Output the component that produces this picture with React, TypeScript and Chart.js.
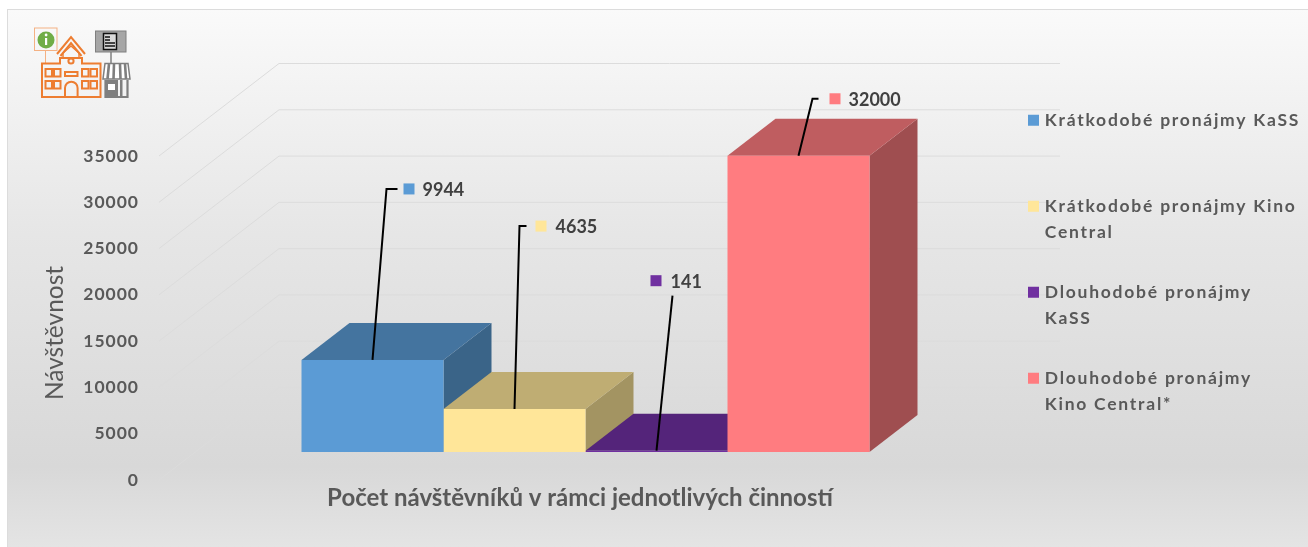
import React, { useEffect, useRef } from "react";
import { Chart, registerables } from "chart.js";

Chart.register(...registerables);

const categories = ["Počet návštěvníků"];
const seriesLines = [
  ["Krátkodobé pronájmy KaSS", ""],
  ["Krátkodobé pronájmy Kino", "Central"],
  ["Dlouhodobé pronájmy", "KaSS"],
  ["Dlouhodobé pronájmy", "Kino Central*"],
];
const seriesValues = [9944, 4635, 141, 32000];
const frontColors = ["#5B9BD5", "#FFE699", "#7030A0", "#FF7C80"];
const topColors = ["#44749F", "#BFAD73", "#54247A", "#BF5D60"];
const sideColors = ["#3A6488", "#A39462", "#48206A", "#9F4E50"];
const xTitle = "Počet návštěvníků v rámci jednotlivých činností";
const yTitle = "Návštěvnost";

const FONT = "Lato, Carlito, 'Open Sans', sans-serif";
const BAR_DEPTH = { x: 48, y: -37 };
const WALL = { backOffset: -64.5, frontOffset: 28, frontX: 159, backX: 279, endX: 1060 };
// leader-line layout per series, relative to the bar's top-centre
const callouts = [
  { elbow: [14, -171], end: [25, -171], square: [31, -171], text: [50, -170] },
  { elbow: [5, -183], end: [12, -183], square: [21, -183], text: [41, -182] },
  { elbow: null, end: [16, -155], square: [-6, -170], text: [14, -169] },
  { elbow: [14, -57], end: [20, -57], square: [31, -57], text: [50, -56] },
];

const spaced = (obj: any, method: string, spacing: string) => {
  if (!obj || obj["__w" + method]) return;
  const orig = obj[method];
  obj["__w" + method] = true;
  obj[method] = function (...args: any[]) {
    const ctx = this.ctx;
    ctx.save();
    ctx.letterSpacing = spacing;
    const r = orig.apply(this, args);
    ctx.restore();
    return r;
  };
};

const scene = {
  id: "scene",
  beforeLayout(chart: any) {
    const legend = chart.legend;
    if (legend && !legend.__fit) {
      legend.__fit = true;
      const fit = legend.fit;
      legend.fit = function () {
        fit.call(this);
        this.width = 296;
      };
    }
  },
  afterLayout(chart: any) {
    const { x, y } = chart.scales;
    x.right -= 11; // title centred a little left of the bars
    y.top += 86; // axis title sits low on the axis
    const legend = chart.legend;
    legend.left = 997;
    legend.top = 77.5;
  },
  beforeDraw(chart: any) {
    const { ctx, width, height, scales } = chart;
    ctx.save();
    const g = ctx.createLinearGradient(0, 9, 0, height);
    g.addColorStop(0, "#FAFAFA");
    g.addColorStop(0.42, "#E6E6E6");
    g.addColorStop(0.85, "#D8D8D8");
    g.addColorStop(1, "#E4E4E4");
    ctx.fillStyle = g;
    ctx.fillRect(7, 9, width, height);
    ctx.strokeStyle = "#DCDCDC";
    ctx.lineWidth = 1;
    ctx.strokeRect(7.5, 9.5, width, height);
    // walls
    scales.y.ticks.forEach((t: any) => {
      const py = scales.y.getPixelForValue(t.value);
      ctx.beginPath();
      ctx.moveTo(WALL.frontX, py + WALL.frontOffset);
      ctx.lineTo(WALL.backX, py + WALL.backOffset);
      ctx.lineTo(WALL.endX, py + WALL.backOffset);
      ctx.stroke();
    });
    ctx.restore();
    spaced(chart.legend, "draw", "1.75px");
    spaced(chart.scales.y, "drawLabels", "1px");
  },
  beforeDatasetsDraw(chart: any) {
    const { ctx } = chart;
    ctx.save();
    // bar depth
    chart.data.datasets.forEach((_: any, i: number) => {
      const el = chart.getDatasetMeta(i).data[0];
      const half = el.width / 2;
      const l = el.x - half;
      const r = el.x + half;
      const t = el.y;
      const b = el.base;
      const dx = BAR_DEPTH.x;
      const dy = BAR_DEPTH.y;
      ctx.fillStyle = sideColors[i];
      ctx.beginPath();
      ctx.moveTo(r, t);
      ctx.lineTo(r + dx, t + dy);
      ctx.lineTo(r + dx, b + dy);
      ctx.lineTo(r, b);
      ctx.closePath();
      ctx.fill();
      ctx.fillStyle = topColors[i];
      ctx.beginPath();
      ctx.moveTo(l, t);
      ctx.lineTo(l + dx, t + dy);
      ctx.lineTo(r + dx, t + dy);
      ctx.lineTo(r, t);
      ctx.closePath();
      ctx.fill();
    });
    ctx.restore();
  },
  afterDatasetsDraw(chart: any) {
    const { ctx } = chart;
    ctx.save();
    chart.data.datasets.forEach((ds: any, i: number) => {
      const el = chart.getDatasetMeta(i).data[0];
      const c = callouts[i];
      const ox = el.x;
      const oy = el.y;
      ctx.strokeStyle = "#000000";
      ctx.lineWidth = 2;
      ctx.beginPath();
      ctx.moveTo(ox, oy);
      if (c.elbow) ctx.lineTo(ox + c.elbow[0], oy + c.elbow[1]);
      ctx.lineTo(ox + c.end[0], oy + c.end[1]);
      ctx.stroke();
      ctx.fillStyle = frontColors[i];
      ctx.fillRect(ox + c.square[0], oy + c.square[1] - 5.5, 11, 11);
      ctx.fillStyle = "#404040";
      ctx.font = `bold 18px ${FONT}`;
      ctx.textAlign = "left";
      ctx.textBaseline = "middle";
      ctx.fillText(String(ds.data[0]), ox + c.text[0], oy + c.text[1]);
    });
    ctx.restore();
  },
};

function Icon() {
  const o = "#ED7D31";
  const g = "#7F7F7F";
  return (
    <svg
      width="110"
      height="80"
      viewBox="30 25 110 80"
      style={{ position: "absolute", left: 30, top: 25 }}
      fill="none"
    >
      <rect x="34.5" y="28" width="22.5" height="22.5" stroke="#F4B183" strokeWidth="1" />
      <circle cx="46" cy="40" r="8.5" fill="#70AD47" />
      <rect x="45" y="38" width="2.2" height="7" fill="#fff" />
      <circle cx="46.1" cy="35" r="1.4" fill="#fff" />
      <path d="M45.5 50.5V63" stroke="#F4B183" strokeWidth="1" />
      <g stroke={o} strokeWidth="2">
        <path d="M42 63.5H60V58H82V63.5H100.5V97H42Z" />
        <path d="M57 54L71 37L85 54" />
        <path d="M60.5 56L71 43L81.5 56" />
        <path d="M63 58V53L71 46L79 53V58" strokeWidth="1.4" />
        <circle cx="71" cy="61" r="2.6" />
        <rect x="65" y="72" width="12.5" height="4" />
        <path d="M65 97V88a6.3 6.3 0 0 1 12.6 0V97" />
        <rect x="45.5" y="69" width="6.5" height="7.5" />
        <rect x="54" y="69" width="6.5" height="7.5" />
        <rect x="45.5" y="81" width="6.5" height="7.5" />
        <rect x="54" y="81" width="6.5" height="7.5" />
        <rect x="82" y="69" width="6.5" height="7.5" />
        <rect x="90.5" y="69" width="6.5" height="7.5" />
        <rect x="82" y="81" width="6.5" height="7.5" />
        <rect x="90.5" y="81" width="6.5" height="7.5" />
      </g>
      <rect x="95.5" y="31" width="30.5" height="21" fill="#A6A6A6" stroke={g} strokeWidth="1" />
      <rect x="103.5" y="33.5" width="13" height="16" fill="#D9D9D9" stroke="#111" strokeWidth="1.5" />
      <path d="M105 37H110M105 40H110M105 43H115M105 46H115" stroke="#111" strokeWidth="1.4" />
      <path d="M111 52V63" stroke={g} strokeWidth="1.5" />
      <path d="M105 63.5H128L130 79H103Z" fill="#fff" stroke={g} strokeWidth="1.5" />
      <path d="M109 64L107.5 79M114 64L113.5 79M120 64L120.5 79M125 64L126 79" stroke={g} strokeWidth="2.6" />
      <path d="M105.5 80V97H127.5V80" stroke={g} strokeWidth="2.2" />
      <rect x="105" y="80" width="13" height="17" fill={g} />
      <rect x="108" y="84" width="7" height="6" fill="#fff" />
      <rect x="120" y="80" width="2.5" height="17" fill={g} />
    </svg>
  );
}

export default function App() {
  const ref = useRef<HTMLCanvasElement>(null);
  useEffect(() => {
    const chart = new Chart(ref.current as HTMLCanvasElement, {
      type: "bar",
      data: {
        labels: categories,
        datasets: seriesLines.map((lines, i) => ({
          label: lines as any,
          data: [seriesValues[i]],
          backgroundColor: frontColors[i],
          borderWidth: 0,
          borderColor: frontColors[i],
          clip: false,
        })),
      },
      plugins: [scene],
      options: {
        animation: false,
        responsive: false,
        layout: { padding: { left: 8, top: 128, right: 0, bottom: 0 } },
        datasets: { bar: { categoryPercentage: 568 / 853, barPercentage: 1 } },
        plugins: {
          tooltip: { enabled: false },
          legend: {
            position: "right",
            align: "start",
            labels: {
              boxWidth: 5,
              boxHeight: 5,
              padding: 34,
              color: "#595959",
              font: { family: FONT, size: 17.5, weight: "bold", lineHeight: 26 / 17.5 },
              generateLabels: (c: any) =>
                c.data.datasets.map((d: any, i: number) => ({
                  text: d.label,
                  fillStyle: frontColors[i],
                  strokeStyle: frontColors[i],
                  lineWidth: 6,
                  fontColor: "#595959",
                  hidden: false,
                  datasetIndex: i,
                })),
            },
          },
        },
        scales: {
          x: {
            afterFit: (s: any) => {
              s.height = 95;
            },
            grid: { display: false },
            border: { display: false },
            ticks: { display: false },
            title: {
              display: true,
              text: xTitle,
              color: "#595959",
              font: { family: FONT, size: 24, weight: "bold" },
              padding: { top: 0, bottom: 34 },
            },
          },
          y: {
            min: 0,
            max: 35000,
            afterFit: (s: any) => {
              s.width = 151;
            },
            grid: { display: false, drawTicks: false },
            border: { display: false },
            ticks: {
              stepSize: 5000,
              labelOffset: 28,
              padding: 20,
              color: "#595959",
              font: { family: FONT, size: 17.5, weight: "bold" },
              callback: (v: any) => String(v),
            },
            title: {
              display: true,
              text: yTitle,
              color: "#595959",
              font: { family: FONT, size: 24.5, weight: "normal" },
              padding: { top: 32, bottom: 0 },
            },
          },
        },
      } as any,
    });
    chart.draw();
    return () => chart.destroy();
  }, []);
  return (
    <div style={{ position: "fixed", left: 0, top: 0, width: 1308, height: 547, overflow: "hidden", background: "#fff" }}>
      <canvas ref={ref} width={1308} height={547} style={{ display: "block" }} />
      <Icon />
    </div>
  );
}
